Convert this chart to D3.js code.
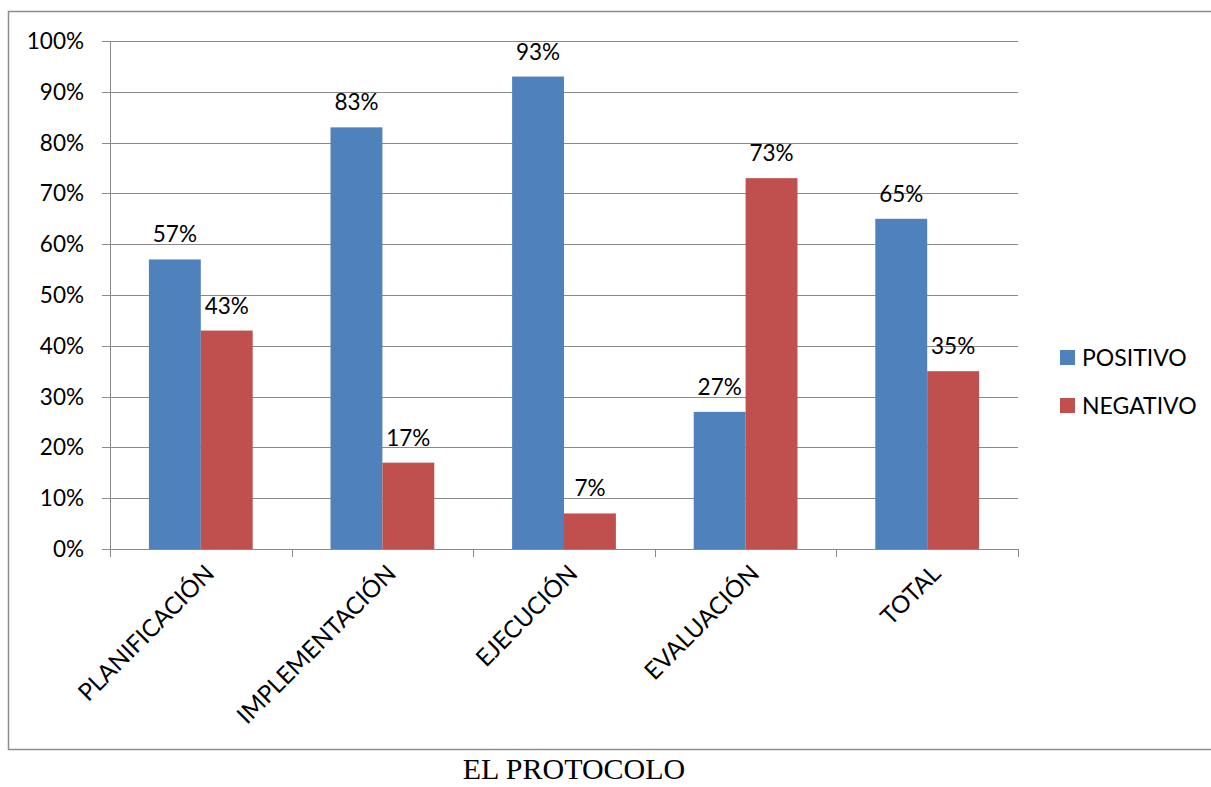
<!DOCTYPE html>
<html>
<head>
<meta charset="utf-8">
<script src="https://cdn.jsdelivr.net/npm/d3@7"></script>
<style>
    html, body { margin: 0; padding: 0; background: #ffffff; }
    svg text { font-family: Lato, 'Open Sans', sans-serif; fill: #000000; }
    .chart-title { font-family: 'Liberation Serif', 'DejaVu Serif', serif; }
</style>
</head>
<body>
<svg id="chart" width="1211" height="787"></svg>
<script>
const categories = ['PLANIFICACIÓN', 'IMPLEMENTACIÓN', 'EJECUCIÓN', 'EVALUACIÓN', 'TOTAL'];
const seriesNames = ['POSITIVO', 'NEGATIVO'];
const positivoValues = [57, 83, 93, 27, 65];
const negativoValues = [43, 17, 7, 73, 35];
const yTicks = [0, 10, 20, 30, 40, 50, 60, 70, 80, 90, 100];
const seriesColors = ['#4F81BD', '#C0504D'];

const svg = d3.select('#chart');
const margin = { top: 41, left: 110, right: 1018, bottom: 549 };
const gridColor = '#8a8a8a';
const labelSize = 22.5;

// chart frame
svg.append('rect')
    .attr('x', 8.5)
    .attr('y', 11.5)
    .attr('width', 1240)
    .attr('height', 738)
    .attr('fill', 'none')
    .attr('stroke', '#8c8c8c')
    .attr('stroke-width', 1.5);

const xScale = d3.scaleBand()
    .domain(categories)
    .range([margin.left, margin.right]);

const xInner = d3.scaleBand()
    .domain(seriesNames)
    .range([0, xScale.bandwidth()])
    .paddingOuter(0.75)
    .paddingInner(0);

const yScale = d3.scaleLinear()
    .domain([0, 100])
    .range([margin.bottom, margin.top]);

// gridlines
svg.append('g')
    .selectAll('line')
    .data(yTicks)
    .enter()
    .append('line')
    .attr('x1', margin.left - 8)
    .attr('x2', margin.right)
    .attr('y1', (d) => Math.round(yScale(d)) + 0.5)
    .attr('y2', (d) => Math.round(yScale(d)) + 0.5)
    .attr('stroke', gridColor)
    .attr('stroke-width', 1);

// y axis line
svg.append('line')
    .attr('x1', margin.left + 0.5)
    .attr('x2', margin.left + 0.5)
    .attr('y1', margin.top)
    .attr('y2', margin.bottom)
    .attr('stroke', gridColor);

// y tick labels
svg.append('g')
    .selectAll('text')
    .data(yTicks)
    .enter()
    .append('text')
    .attr('x', 84)
    .attr('y', (d) => yScale(d) + 8)
    .attr('text-anchor', 'end')
    .attr('font-size', labelSize)
    .text((d) => `${d}%`);

// bars
const rows = categories.map((category, index) => ({
    category,
    values: [
        { series: 'POSITIVO', value: positivoValues[index], color: seriesColors[0] },
        { series: 'NEGATIVO', value: negativoValues[index], color: seriesColors[1] }
    ]
}));

const groups = svg.append('g')
    .selectAll('g')
    .data(rows)
    .enter()
    .append('g')
    .attr('transform', (d) => `translate(${xScale(d.category)},0)`);

groups.selectAll('rect')
    .data((d) => d.values)
    .enter()
    .append('rect')
    .attr('x', (d) => xInner(d.series))
    .attr('y', (d) => yScale(d.value))
    .attr('width', xInner.bandwidth())
    .attr('height', (d) => yScale(0) - yScale(d.value))
    .attr('fill', (d) => d.color);

groups.selectAll('.bar-label')
    .data((d) => d.values)
    .enter()
    .append('text')
    .attr('class', 'bar-label')
    .attr('x', (d) => xInner(d.series) + xInner.bandwidth() / 2)
    .attr('y', (d) => yScale(d.value) - 17)
    .attr('text-anchor', 'middle')
    .attr('font-size', labelSize)
    .text((d) => `${d.value}%`);

// x axis baseline and ticks
svg.append('line')
    .attr('x1', margin.left)
    .attr('x2', margin.right)
    .attr('y1', margin.bottom + 0.5)
    .attr('y2', margin.bottom + 0.5)
    .attr('stroke', gridColor);

const boundaries = categories.map((c) => xScale(c)).concat([margin.right]);
svg.append('g')
    .selectAll('line')
    .data(boundaries)
    .enter()
    .append('line')
    .attr('x1', (d) => Math.round(d) + 0.5)
    .attr('x2', (d) => Math.round(d) + 0.5)
    .attr('y1', margin.bottom)
    .attr('y2', margin.bottom + 8)
    .attr('stroke', gridColor);

// category labels
svg.append('g')
    .selectAll('text')
    .data(categories)
    .enter()
    .append('text')
    .attr('text-anchor', 'end')
    .attr('font-size', 24)
    .attr('transform', (d) => `translate(${xScale(d) + xScale.bandwidth() / 2 + 15},${margin.bottom + 26}) rotate(-45)`)
    .text((d) => d);

// legend
const legend = svg.append('g')
    .selectAll('g')
    .data(seriesNames)
    .enter()
    .append('g')
    .attr('transform', (d, i) => `translate(1060,${350 + i * 48})`);

legend.append('rect')
    .attr('width', 15)
    .attr('height', 15)
    .attr('fill', (d, i) => seriesColors[i]);

legend.append('text')
    .attr('x', 22)
    .attr('y', 16)
    .attr('font-size', 23)
    .text((d) => d);

// title below chart
svg.append('text')
    .attr('class', 'chart-title')
    .attr('x', 574)
    .attr('y', 779)
    .attr('text-anchor', 'middle')
    .attr('font-size', 30)
    .text('EL PROTOCOLO');
</script>
</body>
</html>
